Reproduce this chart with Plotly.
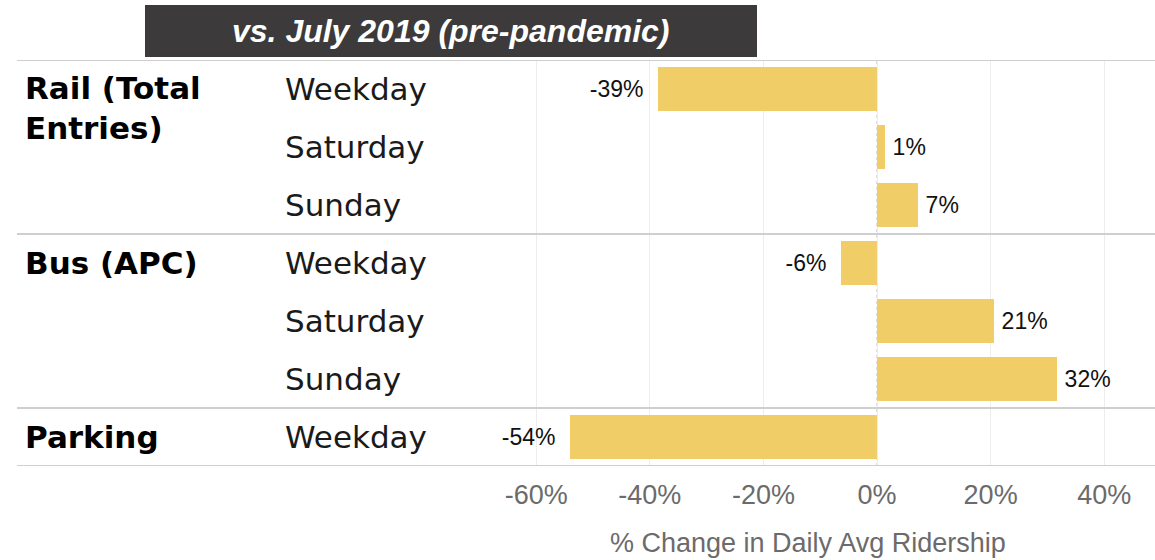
import plotly.graph_objects as go

# ---- data ----
modes = ["Rail", "Rail", "Rail", "Bus", "Bus", "Bus", "Parking"]
days = ["Weekday", "Saturday", "Sunday", "Weekday", "Saturday", "Sunday", "Weekday"]
pct_change = [-38.6, 1.4, 7.2, -6.4, 20.6, 31.6, -54.1]
mode_labels = {"Rail": "Rail (Total<br>Entries)", "Bus": "Bus (APC)", "Parking": "Parking"}
x_ticks = [-60, -40, -20, 0, 20, 40]
x_ticktext = [f"{v}%" for v in x_ticks]
header = "vs. July 2019 (pre-pandemic)"
x_title = "% Change in Daily Avg Ridership"

W, H = 1155, 560
L, R, T, B = 474, 0, 60, 94
PW = W - L - R
PH = H - T - B

def px_x(p):  # pixel x -> paper x
    return (p - L) / PW

def px_y(p):  # pixel y -> paper y
    return 1 - (p - T) / PH

rows = list(range(len(days)))
BAR = "#F0CD66"
# bar labels with a little extra padding away from the bar end
bar_text = [(f"{v:.0f}%\u2002" if v < 0 else f"\u2009{v:.0f}%") for v in pct_change]

fig = go.Figure()
fig.add_trace(go.Bar(
    x=pct_change, y=rows, orientation="h", width=0.75,
    marker=dict(color=BAR, line=dict(width=0)),
    text=bar_text, textposition="outside",
    textfont=dict(family="Liberation Sans, Arial, sans-serif", size=23, color="#111111"),
    cliponaxis=False, hoverinfo="skip",
))

shapes = []
# header box
shapes.append(dict(type="rect", xref="paper", yref="paper",
                   x0=px_x(145), x1=px_x(757), y0=px_y(57), y1=px_y(5),
                   fillcolor="#3c3a3a", line=dict(width=0), layer="above"))
# zero line dotted
shapes.append(dict(type="line", xref="x", yref="paper", x0=0, x1=0, y0=0, y1=1,
                   line=dict(color="#bdbdbd", width=1, dash="dot"), layer="below"))
# group separators
seps = [-0.5]
for i in range(1, len(modes)):
    if modes[i] != modes[i - 1]:
        seps.append(i - 0.5)
seps.append(len(modes) - 0.5)
for s in seps:
    shapes.append(dict(type="line", xref="paper", yref="y", x0=px_x(17), x1=1, y0=s, y1=s,
                       line=dict(color="#cfcfcf", width=2), layer="above"))

annotations = []
annotations.append(dict(text=f"<b><i>{header}</i></b>", xref="paper", yref="paper",
                        x=px_x(451), y=px_y(31), xanchor="center", yanchor="middle",
                        showarrow=False,
                        font=dict(family="Liberation Sans, Arial, sans-serif",
                                  size=32, color="white")))
for r, d in zip(rows, days):
    annotations.append(dict(text=d, xref="paper", yref="y", x=px_x(283), y=r,
                            xanchor="left", yanchor="middle", showarrow=False,
                            font=dict(family="DejaVu Sans, sans-serif", size=31, color="#1a1a1a")))
seen = []
for r, m in zip(rows, modes):
    if m in seen:
        continue
    seen.append(m)
    lbl = mode_labels[m]
    nlines = lbl.count("<br>") + 1
    annotations.append(dict(text=f"<b>{lbl}</b>", xref="paper", yref="y", x=px_x(23), y=r,
                            xanchor="left", yanchor="top" if nlines > 1 else "middle",
                            yshift=21 if nlines > 1 else 0, align="left", showarrow=False,
                            font=dict(family="DejaVu Sans, sans-serif", size=31, color="#000000")))
annotations.append(dict(text=x_title, xref="paper", yref="paper", x=px_x(808), y=px_y(543),
                        xanchor="center", yanchor="middle", showarrow=False,
                        font=dict(family="Liberation Sans, Arial, sans-serif", size=27, color="#6b6b6b")))

fig.update_layout(
    width=W, height=H, margin=dict(l=L, r=R, t=T, b=B),
    paper_bgcolor="white", plot_bgcolor="white", showlegend=False,
    shapes=shapes, annotations=annotations, bargap=0,
    xaxis=dict(range=[-70.95, 48.94], tickvals=x_ticks, ticktext=x_ticktext,
               tickfont=dict(family="Liberation Sans, Arial, sans-serif", size=27, color="#6b6b6b"),
               ticklabelstandoff=10,
               showgrid=True, gridcolor="#ededed", gridwidth=1, zeroline=False,
               showline=False, ticks="", fixedrange=True),
    yaxis=dict(range=[len(days) - 0.5, -0.5], showticklabels=False, showgrid=False,
               zeroline=False, showline=False, fixedrange=True),
)

fig.write_html("out.html", config={"displayModeBar": False},
               post_script="document.body.style.margin='0';document.body.style.overflow='hidden';")
